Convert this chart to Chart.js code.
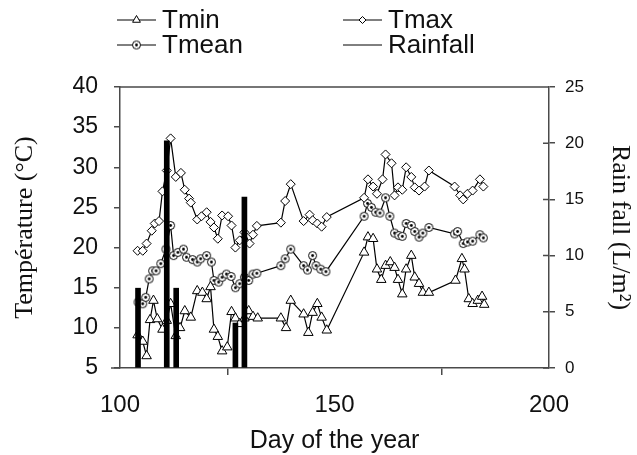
<!DOCTYPE html>
<html lang="en">
<head>
  <meta charset="UTF-8">
  <title>Temperature and rainfall</title>
  <script src="https://cdn.jsdelivr.net/npm/chart.js"></script>
  <style>
    body {
      margin: 0;
      background: #ffffff;
    }
    canvas {
      display: block;
    }
  </style>
</head>
<body>
  <canvas id="chart" width="637" height="455"></canvas>

  <script>
    // values (day of year / °C / L per m2)
    const tminDays = [104.1, 105.3, 106.2, 107, 107.8, 108.7, 109.9, 110.9, 111.8, 113, 114, 115.1, 116.5, 118, 119.2, 120.2, 121.1, 121.9, 122.8, 123.8, 125, 126, 126.9, 127.9, 129, 130, 131, 132.1, 137.5, 138.7, 139.8, 142.8, 143.9, 144.9, 146, 147, 148.2, 156.9, 157.8, 159, 159.9, 160.9, 161.9, 163, 164, 164.8, 165.8, 166.7, 167.9, 168.7, 169.7, 170.6, 172, 178.2, 179.7, 180.3, 181.3, 182.2, 183.4, 184.4, 184.9];
    const tminVals = [9.1, 8.3, 6.5, 11, 13.4, 11.1, 9.8, 10.9, 13, 9, 10, 12.1, 11.3, 14.6, 14.4, 13.6, 15.1, 9.8, 8.9, 7.1, 7.6, 12, 11.2, 10.5, 11.2, 12.1, 11.4, 11.2, 11.2, 10, 13.4, 11.7, 9.4, 11.9, 13, 11.3, 9.7, 19.4, 21.3, 21.1, 17.3, 16, 17.75, 18.2, 17.5, 16, 14.2, 17.3, 19, 16.3, 15.5, 14.4, 14.4, 15.9, 18.6, 17.3, 13.6, 13, 13.4, 13.9, 12.9];

    const tmaxDays = [104.1, 105.3, 106.2, 107.4, 108.1, 109.1, 109.9, 110.9, 111.8, 113, 114.2, 115.1, 116.1, 116.5, 118, 119, 120.2, 121.1, 121.9, 122.8, 123.8, 125.2, 126, 126.9, 127.9, 129, 130.2, 131, 131.9, 137.5, 138.5, 139.8, 142.8, 144.2, 144.9, 146, 147, 148.2, 156.9, 157.8, 159, 159.9, 161.2, 161.9, 163.3, 164, 164.8, 165.8, 166.7, 167.9, 168.7, 169.7, 171, 172, 178, 179.3, 180, 181, 182.2, 183.9, 184.7];
    const tmaxVals = [19.6, 19.6, 20.5, 22.1, 23, 23.3, 27, 29.6, 33.6, 28.8, 29.3, 27.2, 26.1, 25.6, 23.5, 23.9, 24.4, 23.2, 22.5, 21.1, 24, 23.9, 22.75, 20, 20.9, 21.9, 20.5, 21.6, 22.7, 23.1, 25.8, 27.9, 23.3, 24.1, 23.4, 23, 22.6, 23.8, 26.2, 28.5, 27.6, 26.7, 28.5, 31.6, 30.5, 26.5, 27.5, 27.2, 30, 28.8, 27.5, 27.1, 27.6, 29.6, 27.6, 26.5, 26, 26.7, 27.1, 28.5, 27.6];

    const tmeanDays = [104.2, 105.3, 106, 106.8, 107.6, 108.4, 109.5, 110.7, 111.8, 112.5, 113.5, 114.8, 115.5, 116.9, 118, 118.8, 120.2, 121.3, 121.9, 123, 123.8, 124.8, 125.9, 126.9, 127.9, 129, 130, 131, 131.9, 137.5, 138.5, 139.8, 142.8, 143.7, 144.9, 145.7, 146.8, 148, 156.9, 157.7, 158.6, 159.6, 160.6, 161.9, 162.9, 164, 165, 165.8, 166.7, 167.9, 168.7, 169.7, 170.6, 172, 178, 178.7, 180, 181, 182.2, 183.9, 184.7];
    const tmeanVals = [13.2, 13, 13.8, 16.1, 17.1, 17.1, 18, 19.8, 22.75, 19, 19.4, 19.8, 18.8, 18.5, 18.2, 18.6, 19, 18.2, 15.9, 15.7, 16.3, 16.7, 16.4, 15, 15.5, 16.3, 15.9, 16.7, 16.8, 17.75, 18.6, 19.8, 17.75, 17.2, 19, 17.75, 17.3, 17, 23.9, 25.5, 25, 24.4, 24.3, 26.2, 23.9, 21.8, 21.5, 21.4, 23, 22.75, 22, 21.3, 21.8, 22.5, 21.7, 22, 20.5, 20.7, 20.8, 21.6, 21.2];

    const rainDays = [104.2, 110.9, 113.1, 126.9, 129];
    const rainVals = [7.1, 20.2, 7.1, 4.0, 15.2];

    const AXIS = '#4a4a4a';
    const SANS = '"Liberation Sans", Arial, sans-serif';
    const SERIF = '"Liberation Serif", "Times New Roman", serif';

    function toPoints(days, vals) {
      return days.map((d, i) => ({ x: d, y: vals[i] }));
    }

    // open circle with a dot in the middle (Tmean marker)
    const dotCircle = document.createElement('canvas');
    dotCircle.width = 11;
    dotCircle.height = 11;
    (function () {
      const c = dotCircle.getContext('2d');
      c.beginPath();
      c.arc(5.5, 5.5, 4, 0, Math.PI * 2);
      c.fillStyle = '#fff';
      c.fill();
      c.lineWidth = 1;
      c.strokeStyle = '#000';
      c.stroke();
      c.beginPath();
      c.arc(5.5, 5.5, 1.4, 0, Math.PI * 2);
      c.fillStyle = '#000';
      c.fill();
    })();

    const markers = {
      Tmin: { pointStyle: 'triangle', radius: 5.5 },
      Tmax: { pointStyle: 'rectRot', radius: 4.5 },
      Tmean: { pointStyle: dotCircle, radius: 5 }
    };

    function lineSet(label, days, vals) {
      return {
        type: 'line',
        label: label,
        data: toPoints(days, vals),
        yAxisID: 'y',
        order: 1,
        borderColor: '#000',
        borderWidth: 1.2,
        pointStyle: markers[label].pointStyle,
        pointRadius: markers[label].radius,
        pointBackgroundColor: '#fff',
        pointBorderColor: '#000',
        pointBorderWidth: 1,
        tension: 0
      };
    }

    // box top, inward right ticks and the two-column legend
    const framePlugin = {
      id: 'frame',
      afterDraw(chart) {
        const ctx = chart.ctx;
        const a = chart.chartArea;
        ctx.save();
        ctx.strokeStyle = AXIS;
        ctx.lineWidth = 1.5;
        ctx.beginPath();
        ctx.moveTo(a.left, a.top);
        ctx.lineTo(a.right, a.top);
        ctx.moveTo(a.left - 9, a.bottom);
        ctx.lineTo(a.left, a.bottom);
        const yr = chart.scales.yRain;
        yr.ticks.forEach(t => {
          const py = yr.getPixelForValue(t.value);
          ctx.moveTo(a.right - 6, py);
          ctx.lineTo(a.right, py);
        });
        ctx.stroke();

        const items = [
          { label: 'Tmin', x: 117, y: 20 },
          { label: 'Tmax', x: 343, y: 20 },
          { label: 'Tmean', x: 117, y: 45 },
          { label: 'Rainfall', x: 343, y: 45 }
        ];
        ctx.font = '26px ' + SANS;
        ctx.textBaseline = 'middle';
        items.forEach(it => {
          ctx.strokeStyle = '#000';
          ctx.lineWidth = 1;
          ctx.beginPath();
          ctx.moveTo(it.x, it.y);
          ctx.lineTo(it.x + 39, it.y);
          ctx.stroke();
          const m = markers[it.label];
          if (m) {
            ctx.fillStyle = '#fff';
            ctx.strokeStyle = '#000';
            Chart.helpers.drawPoint(ctx, {
              pointStyle: m.pointStyle,
              radius: m.radius - 1,
              borderWidth: 1,
              rotation: 0
            }, it.x + 19.5, it.y);
          }
          ctx.fillStyle = '#111';
          ctx.fillText(it.label, it.x + 45, it.y + 1);
        });
        ctx.restore();
      }
    };

    new Chart(document.getElementById('chart'), {
      data: {
        datasets: [
          {
            type: 'bar',
            label: 'Rainfall',
            data: toPoints(rainDays, rainVals),
            yAxisID: 'yRain',
            order: 0,
            backgroundColor: '#000',
            barThickness: 5
          },
          lineSet('Tmin', tminDays, tminVals),
          lineSet('Tmax', tmaxDays, tmaxVals),
          lineSet('Tmean', tmeanDays, tmeanVals)
        ]
      },
      options: {
        responsive: false,
        animation: false,
        layout: { padding: { top: 87, left: 0, right: 0, bottom: 0 } },
        plugins: {
          legend: { display: false },
          tooltip: { enabled: false }
        },
        scales: {
          x: {
            type: 'linear',
            min: 100,
            max: 200,
            offset: false,
            afterFit(scale) { scale.height = 87; },
            ticks: { stepSize: 50, color: '#111', padding: 16, font: { family: SANS, size: 24 } },
            grid: { drawOnChartArea: false, tickLength: 7, color: AXIS, lineWidth: 1.5 },
            border: { color: AXIS, width: 1.5 },
            title: {
              display: true,
              text: 'Day of the year',
              color: '#111',
              font: { family: SANS, size: 25 },
              padding: { top: 0, bottom: -1 }
            }
          },
          y: {
            position: 'left',
            min: 5,
            max: 40,
            afterFit(scale) { scale.width = 120; },
            ticks: { stepSize: 5, color: '#111', padding: 16, font: { family: SANS, size: 23 } },
            grid: { drawOnChartArea: false, tickLength: 6, color: AXIS, lineWidth: 1.5 },
            border: { color: AXIS, width: 1.5 },
            title: {
              display: true,
              text: 'Température (°C)',
              color: '#111',
              font: { family: SERIF, size: 26 },
              padding: { top: 10, bottom: 0 }
            }
          },
          yRain: {
            position: 'right',
            min: 0,
            max: 25,
            afterFit(scale) { scale.width = 88; },
            ticks: { stepSize: 5, color: '#111', padding: 10, font: { family: SANS, size: 17 } },
            grid: { drawOnChartArea: false, tickLength: 6, color: AXIS, lineWidth: 1.5 },
            border: { color: AXIS, width: 1.5 },
            title: {
              display: true,
              text: 'Rain fall (L/m²)',
              color: '#111',
              font: { family: SERIF, size: 26 },
              padding: { top: 2, bottom: 0 }
            }
          }
        }
      },
      plugins: [framePlugin]
    });
  </script>
</body>
</html>
